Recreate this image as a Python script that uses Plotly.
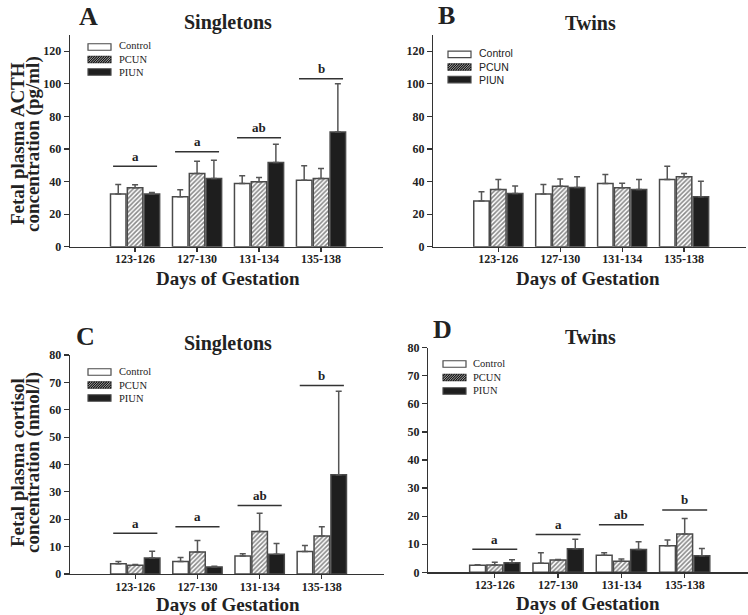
import plotly.graph_objects as go

W, H = 748, 615

categories = ["123-126", "127-130", "131-134", "135-138"]
groups = ["Control", "PCUN", "PIUN"]

# Panel A: ACTH, singletons
acth_single_control = [32.4, 30.6, 38.8, 40.8]
acth_single_control_err = [5.8, 4.3, 4.7, 8.8]
acth_single_pcun = [36.1, 44.9, 39.8, 41.8]
acth_single_pcun_err = [1.9, 7.5, 2.6, 6.2]
acth_single_piun = [32.4, 41.8, 51.6, 70.4]
acth_single_piun_err = [0.9, 11.3, 11.3, 29.6]
acth_single_sig = ["a", "a", "ab", "b"]
acth_single_sig_y = [49.4, 58.2, 66.9, 103.0]

# Panel B: ACTH, twins
acth_twin_control = [28.0, 32.4, 38.8, 41.2]
acth_twin_control_err = [5.7, 5.8, 5.5, 8.2]
acth_twin_pcun = [35.1, 37.1, 36.1, 42.9]
acth_twin_pcun_err = [6.1, 4.5, 2.9, 2.0]
acth_twin_piun = [32.7, 36.3, 35.1, 30.6]
acth_twin_piun_err = [4.6, 6.6, 6.1, 9.6]

# Panel C: cortisol, singletons
cort_single_control = [3.7, 4.6, 6.6, 8.2]
cort_single_control_err = [0.9, 1.4, 0.8, 2.2]
cort_single_pcun = [3.2, 8.0, 15.5, 13.9]
cort_single_pcun_err = [0.3, 4.2, 6.7, 3.4]
cort_single_piun = [5.85, 2.6, 7.2, 36.3]
cort_single_piun_err = [2.45, 0.2, 3.9, 30.5]
cort_single_sig = ["a", "a", "ab", "b"]
cort_single_sig_y = [14.9, 17.3, 25.0, 68.9]

# Panel D: cortisol, twins
cort_twin_control = [2.5, 3.2, 6.05, 9.5]
cort_twin_control_err = [0.2, 3.8, 0.95, 2.0]
cort_twin_pcun = [2.6, 4.4, 3.9, 13.65]
cort_twin_pcun_err = [1.0, 0.2, 0.8, 5.55]
cort_twin_piun = [3.4, 8.4, 8.1, 5.9]
cort_twin_piun_err = [1.1, 3.35, 2.8, 2.6]
cort_twin_sig = ["a", "a", "ab", "b"]
cort_twin_sig_y = [8.2, 13.5, 16.9, 22.2]

SERIF = "Liberation Serif"
SANS = "Liberation Sans"
INK = "#222222"
EDGE = "#4a4a4a"


def px(x):
    return x / W


def py(y):
    return 1 - y / H


panels = [
    dict(ax="", vals=[acth_single_control, acth_single_pcun, acth_single_piun],
         errs=[acth_single_control_err, acth_single_pcun_err, acth_single_piun_err],
         sig=acth_single_sig, sig_y=acth_single_sig_y,
         xdom=(70, 383), ydom=(246.7, 34.8), yrange=[0, 130], dtick=20,
         letter="A", title="Singletons", letter_pos=(88, 17), title_pos=(228, 23),
         xtitle_pos=(228, 278),
         ylab=["Fetal plasma ACTH", "concentration (pg/ml)"], ylab_pos=(17, 33, 144),
         leg=(88, 59.5, 12.5, 117, SERIF)),
    dict(ax="2", vals=[acth_twin_control, acth_twin_pcun, acth_twin_piun],
         errs=[acth_twin_control_err, acth_twin_pcun_err, acth_twin_piun_err],
         sig=None, sig_y=None,
         xdom=(433.3, 746), ydom=(246.7, 34.8), yrange=[0, 130], dtick=20,
         letter="B", title="Twins", letter_pos=(447, 16), title_pos=(590, 23),
         xtitle_pos=(588, 278),
         ylab=None, ylab_pos=None,
         leg=(448, 67, 12.7, 477, SANS)),
    dict(ax="3", vals=[cort_single_control, cort_single_pcun, cort_single_piun],
         errs=[cort_single_control_err, cort_single_pcun_err, cort_single_piun_err],
         sig=cort_single_sig, sig_y=cort_single_sig_y,
         xdom=(70, 384), ydom=(574, 355), yrange=[0, 80], dtick=10,
         letter="C", title="Singletons", letter_pos=(85, 336), title_pos=(228, 343),
         xtitle_pos=(228, 604),
         ylab=["Fetal plasma cortisol", "concentration (nmol/l)"], ylab_pos=(17, 33, 463),
         leg=(88, 385, 13, 117, SERIF)),
    dict(ax="4", vals=[cort_twin_control, cort_twin_pcun, cort_twin_piun],
         errs=[cort_twin_control_err, cort_twin_pcun_err, cort_twin_piun_err],
         sig=cort_twin_sig, sig_y=cort_twin_sig_y,
         xdom=(428.3, 748), ydom=(572.3, 347.7), yrange=[0, 80], dtick=10,
         letter="D", title="Twins", letter_pos=(442, 329), title_pos=(590, 337),
         xtitle_pos=(588, 603),
         ylab=None, ylab_pos=None,
         leg=(443, 377.5, 13.5, 471, SERIF)),
]

fig = go.Figure()
layout = {}
shapes = []
annotations = []

xidx = list(range(len(categories)))
HALF_SPAN = 0.355

for p in panels:
    a = p["ax"]
    xref = "x" + a
    yref = "y" + a
    for gi, g in enumerate(groups):
        if g == "Control":
            marker = dict(color="white", line=dict(color=EDGE, width=1.5))
        elif g == "PCUN":
            marker = dict(color="white", line=dict(color=EDGE, width=1.5),
                          pattern=dict(shape="/", fgcolor="#111111", bgcolor="white",
                                       size=3.2, solidity=0.5))
        else:
            marker = dict(color="#1e1e1e", line=dict(color=EDGE, width=1.5))
        fig.add_trace(go.Bar(
            x=xidx, y=p["vals"][gi], name=g, marker=marker,
            xaxis=xref, yaxis=yref, showlegend=False, hoverinfo="skip",
            error_y=dict(type="data", array=p["errs"][gi],
                         arrayminus=[0] * len(xidx), symmetric=False,
                         color="#555555", thickness=1.5, width=3),
        ))
    xd = [px(p["xdom"][0]), px(p["xdom"][1])]
    yd = [py(p["ydom"][0]), py(p["ydom"][1])]
    layout["xaxis" + a] = dict(
        domain=xd, anchor=yref, range=[-1.05, 4.0], automargin=False,
        tickmode="array", tickvals=xidx, ticktext=categories,
        ticks="outside", ticklen=4, tickwidth=1.2, tickcolor="#333",
        ticklabelstandoff=-3,
        showline=True, linecolor="#333", linewidth=1.3,
        showgrid=False, zeroline=False,
        tickfont=dict(family=SERIF, size=12, color=INK, weight="bold"),
    )
    layout["yaxis" + a] = dict(
        domain=yd, anchor=xref, range=p["yrange"], dtick=p["dtick"], automargin=False,
        ticks="outside", ticklen=5, tickwidth=1.2, tickcolor="#333",
        showline=True, linecolor="#333", linewidth=1.3,
        showgrid=False, zeroline=False,
        tickfont=dict(family=SERIF, size=12, color=INK, weight="bold"),
    )
    # significance lines and letters
    if p["sig"]:
        for i, (lab, yv) in enumerate(zip(p["sig"], p["sig_y"])):
            shapes.append(dict(type="line", xref=xref, yref=yref,
                               x0=xidx[i] - HALF_SPAN, x1=xidx[i] + HALF_SPAN,
                               y0=yv, y1=yv, line=dict(color="#333", width=1.5)))
            annotations.append(dict(x=xidx[i], y=yv, xref=xref, yref=yref, text=lab,
                                    showarrow=False, yanchor="middle", yshift=10,
                                    font=dict(family=SERIF, size=13, color=INK, weight="bold")))
    # panel letter & title
    annotations.append(dict(x=px(p["letter_pos"][0]), y=py(p["letter_pos"][1]),
                            xref="paper", yref="paper", text=p["letter"], showarrow=False,
                            xanchor="center", yanchor="middle",
                            font=dict(family=SERIF, size=26, color=INK, weight="bold")))
    annotations.append(dict(x=px(p["title_pos"][0]), y=py(p["title_pos"][1]),
                            xref="paper", yref="paper", text=p["title"], showarrow=False,
                            xanchor="center", yanchor="middle",
                            font=dict(family=SERIF, size=20, color=INK, weight="bold")))
    annotations.append(dict(x=px(p["xtitle_pos"][0]), y=py(p["xtitle_pos"][1]),
                            xref="paper", yref="paper", text="Days of Gestation", showarrow=False,
                            xanchor="center", yanchor="middle",
                            font=dict(family=SERIF, size=19, color=INK, weight="bold")))
    if p["ylab"]:
        x1, x2, yc = p["ylab_pos"]
        for txt, xx in zip(p["ylab"], [x1, x2]):
            annotations.append(dict(x=px(xx), y=py(yc), xref="paper", yref="paper",
                                    text=txt, showarrow=False, textangle=-90,
                                    xanchor="center", yanchor="middle",
                                    font=dict(family=SERIF, size=19, color=INK, weight="bold")))
    # manual legend
    lx, mid, step, tx, lfont = p["leg"]
    rows = [mid - step, mid, mid + step]
    sw, sh = 23, 6.5
    for g, ry in zip(groups, rows):
        x0, x1 = lx, lx + sw
        y0, y1 = ry - sh / 2, ry + sh / 2
        fill = "#1e1e1e" if g == "PIUN" else "white"
        shapes.append(dict(type="rect", xref="paper", yref="paper",
                           x0=px(x0), x1=px(x1), y0=py(y1), y1=py(y0),
                           fillcolor=fill, line=dict(color=EDGE, width=1.2)))
        if g == "PCUN":
            segs = []
            k = 2.0
            while k < sw + sh:
                sx, sy = x0 + k - sh, y1
                if sx < x0:
                    sx, sy = x0, y0 + k
                ex, ey = x0 + k, y0
                if ex > x1:
                    ex, ey = x1, y0 + k - sw
                segs.append("M%.5f,%.5f L%.5f,%.5f" % (px(sx), py(sy), px(ex), py(ey)))
                k += 2.4
            shapes.append(dict(type="path", xref="paper", yref="paper",
                               path=" ".join(segs), line=dict(color="#111111", width=1.1)))
    annotations.append(dict(x=px(tx), y=py(mid), xref="paper", yref="paper",
                            text="<br>".join(groups), align="left",
                            showarrow=False, xanchor="left", yanchor="middle",
                            font=dict(family=lfont, size=10.5, color=INK)))

fig.update_layout(
    width=W, height=H,
    margin=dict(l=0, r=0, t=0, b=0),
    paper_bgcolor="white", plot_bgcolor="white",
    barmode="group", bargap=0.185, bargroupgap=0.08,
    shapes=shapes, annotations=annotations,
    showlegend=False, hovermode=False,
    **layout,
)

fig.write_html(
    "out.html",
    config={"displayModeBar": False, "staticPlot": True},
    post_script="document.body.style.margin='0';document.body.style.overflow='hidden';",
)
